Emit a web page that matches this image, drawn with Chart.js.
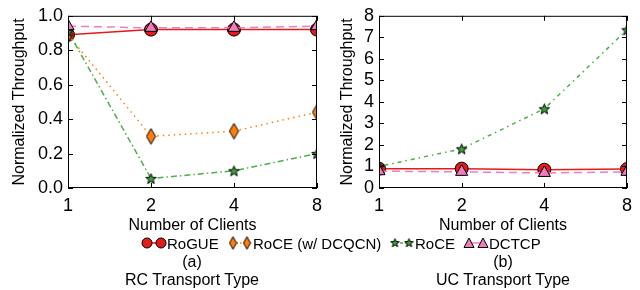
<!DOCTYPE html>
<html>
<head>
<meta charset="utf-8">
<script src="https://cdn.jsdelivr.net/npm/chart.js@4/dist/chart.umd.min.js"></script>
<style>
  body { margin: 0; background: #fff; font-family: "Liberation Sans", Arial, sans-serif; color: #000; }
  #wrap { position: relative; width: 640px; height: 290px; overflow: hidden; }
  canvas.chart { position: absolute; top: 0; }
  .leg { position: absolute; top: 234px; height: 18px; display: flex; align-items: center; font-size: 15px; white-space: nowrap; }
  .leg canvas { display: block; }
  .cap { position: absolute; width: 250px; text-align: center; font-size: 16px; line-height: 18px; }
</style>
</head>
<body>
<div id="wrap">
  <canvas id="rcChart" class="chart" width="330" height="236" style="left:0"></canvas>
  <canvas id="ucChart" class="chart" width="320" height="236" style="left:320px"></canvas>
  <div id="legend"></div>
  <div class="cap" style="left:67px; top:253px">(a)</div>
  <div class="cap" style="left:67px; top:271px">RC Transport Type</div>
  <div class="cap" style="left:378px; top:253px">(b)</div>
  <div class="cap" style="left:378px; top:271px">UC Transport Type</div>
</div>
<script>
// data
const clients = ['1', '2', '4', '8'];

const rcRogue = [0.89, 0.92, 0.92, 0.92];
const rcDcqcn = [0.89, 0.30, 0.33, 0.44];
const rcRoce  = [0.91, 0.055, 0.10, 0.20];
const rcDctcp = [0.94, 0.93, 0.93, 0.94];

const ucRogue = [0.90, 0.90, 0.85, 0.88];
const ucRoce  = [1.00, 1.82, 3.68, 7.35];
const ucDctcp = [0.78, 0.75, 0.70, 0.75];

const RED = '#e41a1c', ORANGE = '#ff7f0e', GREEN = '#4daf4a', PINK = '#f07cbf';

function el(id) { return document.getElementById(id); }

function makeStar(size) {
  const c = document.createElement('canvas');
  c.width = size; c.height = size;
  const g = c.getContext('2d');
  const m = size / 2, R = size / 2 - 1, r = R * 0.42;
  g.beginPath();
  for (let i = 0; i < 10; i++) {
    const rr = i % 2 === 0 ? R : r;
    const a = -Math.PI / 2 + i * Math.PI / 5;
    const px = m + rr * Math.cos(a), py = m + 0.6 + rr * Math.sin(a);
    if (i === 0) g.moveTo(px, py); else g.lineTo(px, py);
  }
  g.closePath();
  g.fillStyle = '#3f9f3c';
  g.fill();
  g.strokeStyle = '#000';
  g.lineWidth = 1;
  g.stroke();
  return c;
}

function makeDiamond(w, h) {
  const c = document.createElement('canvas');
  c.width = w; c.height = h;
  const g = c.getContext('2d');
  g.beginPath();
  g.moveTo(w / 2, 0.7); g.lineTo(w - 1, h / 2); g.lineTo(w / 2, h - 0.7); g.lineTo(1, h / 2);
  g.closePath();
  g.fillStyle = ORANGE;
  g.fill();
  g.strokeStyle = '#000';
  g.lineWidth = 1;
  g.stroke();
  return c;
}

const starImg = makeStar(13);
const diamondImg = makeDiamond(11, 17);
const starSmall = makeStar(11);
const diamondSmall = makeDiamond(9, 14);

// box frame plus inward ticks on all four sides
const framePlugin = {
  id: 'frame',
  afterDraw(chart) {
    const { ctx, chartArea: a, scales: { x, y } } = chart;
    ctx.save();
    ctx.strokeStyle = '#000';
    ctx.lineWidth = 1;
    ctx.strokeRect(a.left + 0.5, a.top + 0.5, a.right - a.left - 1, a.bottom - a.top - 1);
    ctx.beginPath();
    x.ticks.forEach((t, i) => {
      const px = Math.round(x.getPixelForTick(i)) + 0.5;
      ctx.moveTo(px, a.bottom); ctx.lineTo(px, a.bottom - 5);
      ctx.moveTo(px, a.top); ctx.lineTo(px, a.top + 5);
    });
    y.ticks.forEach((t, i) => {
      const py = Math.round(y.getPixelForTick(i)) + 0.5;
      ctx.moveTo(a.left, py); ctx.lineTo(a.left + 5, py);
      ctx.moveTo(a.right, py); ctx.lineTo(a.right - 5, py);
    });
    ctx.stroke();
    ctx.restore();
  }
};

function series(label, data, color, dash, pointStyle, radius, order) {
  return {
    label, data, order,
    borderColor: color,
    borderWidth: 1.5,
    borderDash: dash,
    backgroundColor: color,
    pointStyle,
    pointRadius: radius,
    pointBorderColor: '#000',
    pointBorderWidth: 1,
    pointBackgroundColor: color,
    tension: 0,
    fill: false,
    clip: 0
  };
}

function buildChart(canvas, datasets, yMax, yStep, yWidth, yTitlePad, fmt) {
  return new Chart(canvas.getContext('2d'), {
    type: 'line',
    data: { labels: clients, datasets },
    options: {
      responsive: false,
      animation: false,
      devicePixelRatio: 1,
      layout: { padding: { top: 13, right: 13, left: 0, bottom: 0 } },
      plugins: { legend: { display: false }, tooltip: { enabled: false } },
      scales: {
        x: {
          type: 'category',
          offset: false,
          grid: { display: false, drawTicks: false },
          border: { display: false },
          ticks: { color: '#000', font: { size: 18 }, padding: 7, maxRotation: 0 },
          title: { display: true, text: 'Number of Clients', color: '#000', font: { size: 16 }, padding: { top: 0, bottom: 1 } },
          afterFit(s) { s.height = 48; }
        },
        y: {
          min: 0, max: yMax,
          grid: { display: false, drawTicks: false },
          border: { display: false },
          ticks: { stepSize: yStep, autoSkip: false, color: '#000', font: { size: 18 }, padding: 5, callback: fmt },
          title: { display: true, text: 'Normalized Throughput', color: '#000', font: { size: 16 }, padding: { top: yTitlePad, bottom: 0 } },
          afterFit(s) { s.width = yWidth; }
        }
      }
    },
    plugins: [framePlugin]
  });
}

buildChart(el('rcChart'), [
  series('RoGUE', rcRogue, RED, [], 'circle', 6.5, 3),
  series('RoCE (w/ DCQCN)', rcDcqcn, ORANGE, [1.5, 4], diamondImg, 7, 2),
  series('RoCE', rcRoce, GREEN, [6, 3, 1.5, 3], starImg, 7, 1),
  series('DCTCP', rcDctcp, PINK, [8, 5], 'triangle', 7, 0)
], 1, 0.2, 68, 10, v => v.toFixed(1));

buildChart(el('ucChart'), [
  series('RoGUE', ucRogue, RED, [], 'circle', 6.5, 2),
  series('RoCE', ucRoce, GREEN, [1.5, 4, 4, 4], starImg, 7, 1),
  series('DCTCP', ucDctcp, PINK, [8, 5], 'triangle', 7, 0)
], 8, 1, 59, 18, v => String(v));

// shared legend under both panels
const legendItems = [
  { label: 'RoGUE', color: RED, dash: [], marker: 'circle', left: 141 },
  { label: 'RoCE (w/ DCQCN)', color: ORANGE, dash: [1.5, 2], marker: 'diamond', left: 227 },
  { label: 'RoCE', color: GREEN, dash: [3, 2], marker: 'star', left: 389 },
  { label: 'DCTCP', color: PINK, dash: [], marker: 'triangle', left: 463 }
];

function drawMarker(g, kind, cx, cy, color) {
  g.save();
  g.strokeStyle = '#000';
  g.lineWidth = 1;
  if (kind === 'circle') {
    g.beginPath(); g.arc(cx, cy, 5, 0, Math.PI * 2);
    g.fillStyle = color; g.fill(); g.stroke();
  } else if (kind === 'triangle') {
    g.beginPath(); g.moveTo(cx, cy - 5); g.lineTo(cx + 5, cy + 4.5); g.lineTo(cx - 5, cy + 4.5); g.closePath();
    g.fillStyle = color; g.fill(); g.stroke();
  } else if (kind === 'diamond') {
    g.drawImage(diamondSmall, cx - 4.5, cy - 7);
  } else if (kind === 'star') {
    g.drawImage(starSmall, cx - 5.5, cy - 6);
  }
  g.restore();
}

legendItems.forEach(item => {
  const div = document.createElement('div');
  div.className = 'leg';
  div.style.left = item.left + 'px';
  const c = document.createElement('canvas');
  c.width = 26; c.height = 18;
  const g = c.getContext('2d');
  g.strokeStyle = item.color;
  g.lineWidth = 1.5;
  g.setLineDash(item.dash);
  g.beginPath(); g.moveTo(6, 9); g.lineTo(20, 9); g.stroke();
  g.setLineDash([]);
  drawMarker(g, item.marker, 6, 9, item.color);
  drawMarker(g, item.marker, 20, 9, item.color);
  const span = document.createElement('span');
  span.textContent = item.label;
  div.appendChild(c);
  div.appendChild(span);
  el('legend').appendChild(div);
});
</script>
</body>
</html>
